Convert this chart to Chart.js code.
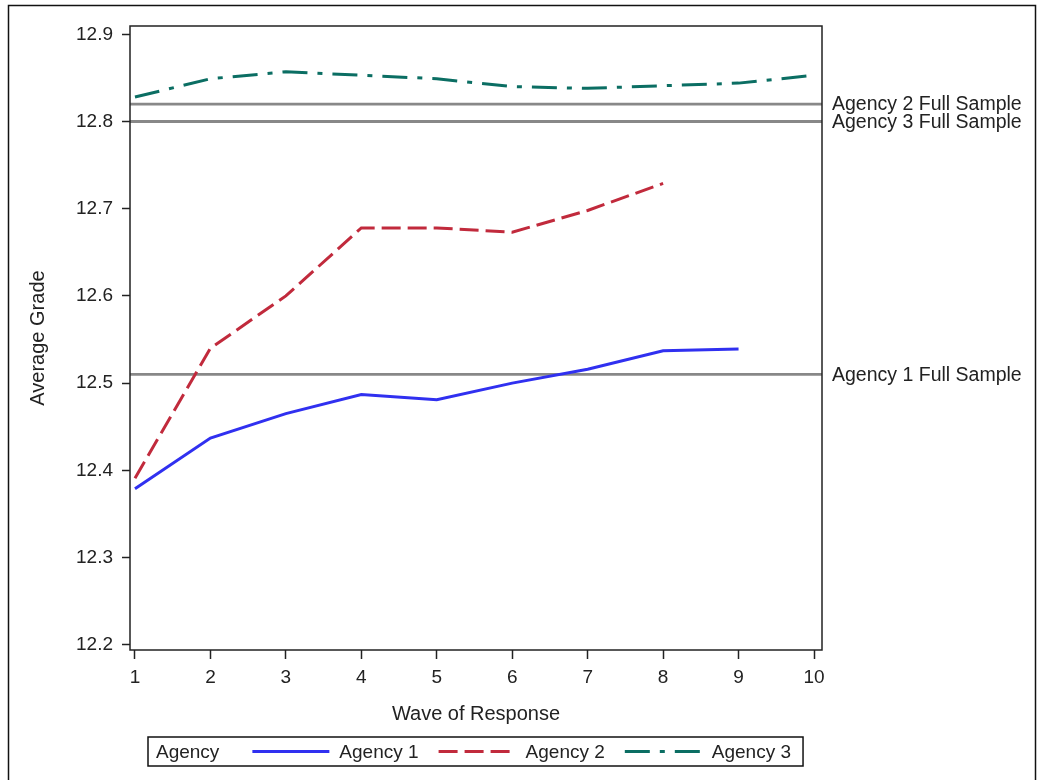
<!DOCTYPE html>
<html>
<head>
<meta charset="utf-8">
<title>Average Grade by Wave of Response</title>
<script src="https://cdn.jsdelivr.net/npm/chart.js@4.4.1/dist/chart.umd.min.js"></script>
<style>
  html, body { margin: 0; padding: 0; background: #fff; }
  #grade-chart { display: block; }
</style>
</head>
<body>
<canvas id="grade-chart" width="1041" height="780"></canvas>
<script>
// --- Data ---
const waves = [1, 2, 3, 4, 5, 6, 7, 8, 9, 10];
const agency1 = [12.379, 12.437, 12.465, 12.487, 12.481, 12.500, 12.516, 12.537, 12.539];
const agency2 = [12.391, 12.540, 12.600, 12.678, 12.678, 12.673, 12.698, 12.729];
const agency3 = [12.828, 12.849, 12.857, 12.853, 12.849, 12.840, 12.838, 12.841, 12.844, 12.853];
const agencyNames = ['Agency 1', 'Agency 2', 'Agency 3'];

const fullSampleLabels = ['Agency 1 Full Sample', 'Agency 2 Full Sample', 'Agency 3 Full Sample'];
const fullSampleValues = [12.51, 12.82, 12.80];

const xTicks = [1, 2, 3, 4, 5, 6, 7, 8, 9, 10];
const yTicks = [12.2, 12.3, 12.4, 12.5, 12.6, 12.7, 12.8, 12.9];

const FONT = "'Liberation Sans', Arial, sans-serif";
const TEXT = '#222';

Chart.defaults.font.family = FONT;
Chart.defaults.color = TEXT;

function toPoints(values) {
    return values.map((v, i) => ({ x: waves[i], y: v }));
}

// --- Plugins ---

// page frame + white background
const frame = {
    id: 'frame',
    beforeDraw(chart) {
        const ctx = chart.ctx;
        ctx.save();
        ctx.fillStyle = '#fff';
        ctx.fillRect(0, 0, chart.width, chart.height);
        ctx.strokeStyle = '#111';
        ctx.lineWidth = 1.5;
        ctx.strokeRect(8.5, 5.5, 1027, chart.height + 10);
        ctx.restore();
    },
    afterDraw(chart) {
        const { ctx, chartArea: a } = chart;
        ctx.save();
        ctx.strokeStyle = TEXT;
        ctx.lineWidth = 1.5;
        ctx.strokeRect(a.left, a.top, a.right - a.left, a.bottom - a.top);
        ctx.restore();
    }
};

// horizontal full-sample reference lines with labels outside the plot
const refLines = {
    id: 'refLines',
    beforeDatasetsDraw(chart) {
        const { ctx, chartArea: a, scales } = chart;
        ctx.save();
        fullSampleValues.forEach((v, i) => {
            const y = scales.y.getPixelForValue(v);
            ctx.strokeStyle = '#888';
            ctx.lineWidth = 2.8;
            ctx.beginPath();
            ctx.moveTo(a.left, y);
            ctx.lineTo(a.right, y);
            ctx.stroke();

            ctx.fillStyle = TEXT;
            ctx.font = '19.5px ' + FONT;
            ctx.textAlign = 'left';
            ctx.textBaseline = 'middle';
            ctx.fillText(fullSampleLabels[i], a.right + 10, y + 1);
        });
        ctx.restore();
    }
};

// boxed legend under the axis title: "Agency" then one sample per dataset
const boxLegend = {
    id: 'boxLegend',
    afterDraw(chart) {
        const { ctx, chartArea: a } = chart;
        const sample = 77;
        const top = 737, h = 29;
        const midY = top + h / 2;

        ctx.save();
        ctx.font = '19px ' + FONT;
        const titleW = ctx.measureText('Agency').width;
        let total = 8 + titleW + 33;
        chart.data.datasets.forEach((ds, i) => {
            total += sample + 10 + ctx.measureText(ds.label).width + (i < 2 ? 20 : 12);
        });
        const left = Math.round((a.left + a.right) / 2 - total / 2);

        ctx.fillStyle = '#fff';
        ctx.fillRect(left, top, total, h);
        ctx.strokeStyle = '#111';
        ctx.lineWidth = 1.5;
        ctx.strokeRect(left, top, total, h);

        ctx.fillStyle = TEXT;
        ctx.textBaseline = 'middle';
        ctx.textAlign = 'left';
        let x = left + 8;
        ctx.fillText('Agency', x, midY + 1);
        x += titleW + 33;

        chart.data.datasets.forEach((ds) => {
            ctx.strokeStyle = ds.borderColor;
            ctx.lineWidth = ds.borderWidth;
            ctx.setLineDash(ds.borderDash || []);
            ctx.beginPath();
            ctx.moveTo(x, midY);
            ctx.lineTo(x + sample, midY);
            ctx.stroke();
            ctx.setLineDash([]);
            x += sample + 10;
            ctx.fillStyle = TEXT;
            ctx.fillText(ds.label, x, midY + 1);
            x += ctx.measureText(ds.label).width + 20;
        });
        ctx.restore();
    }
};

// --- Chart ---

const ctx = document.getElementById('grade-chart').getContext('2d');

new Chart(ctx, {
    type: 'line',
    data: {
        datasets: [
            {
                label: agencyNames[0],
                data: toPoints(agency1),
                borderColor: '#3030f0',
                borderWidth: 3,
                borderDash: []
            },
            {
                label: agencyNames[1],
                data: toPoints(agency2),
                borderColor: '#c12a3c',
                borderWidth: 3,
                borderDash: [19, 7]
            },
            {
                label: agencyNames[2],
                data: toPoints(agency3),
                borderColor: '#0b6e63',
                borderWidth: 3,
                borderDash: [25, 10, 5, 10]
            }
        ]
    },
    options: {
        responsive: false,
        animation: false,
        devicePixelRatio: 1,
        layout: { padding: { left: 0, top: 26, right: 219, bottom: 54 } },
        elements: {
            point: { radius: 0, hoverRadius: 0 },
            line: { tension: 0, borderCapStyle: 'butt', fill: false }
        },
        plugins: {
            legend: { display: false },
            tooltip: { enabled: false }
        },
        scales: {
            x: {
                type: 'linear',
                min: 0.934,
                max: 10.106,
                afterBuildTicks: (scale) => { scale.ticks = xTicks.map(v => ({ value: v })); },
                afterFit: (scale) => { scale.height = 76; },
                border: { display: false },
                grid: { drawOnChartArea: false, tickLength: 9, tickColor: TEXT, tickWidth: 1.5 },
                ticks: { font: { size: 19 }, color: TEXT, padding: 7, maxRotation: 0, autoSkip: false },
                title: {
                    display: true,
                    text: 'Wave of Response',
                    font: { size: 20 },
                    color: TEXT,
                    padding: { top: 4, bottom: 0 }
                }
            },
            y: {
                min: 12.194,
                max: 12.9095,
                afterBuildTicks: (scale) => { scale.ticks = yTicks.map(v => ({ value: v })); },
                afterFit: (scale) => { scale.width = 130; },
                border: { display: false },
                grid: { drawOnChartArea: false, tickLength: 8, tickColor: TEXT, tickWidth: 1.5 },
                ticks: {
                    font: { size: 19 },
                    color: TEXT,
                    padding: 9,
                    callback: (v) => Number(v).toFixed(1)
                },
                title: {
                    display: true,
                    text: 'Average Grade',
                    font: { size: 20 },
                    color: TEXT,
                    padding: { top: 26, bottom: 0 }
                }
            }
        }
    },
    plugins: [frame, refLines, boxLegend]
});
</script>
</body>
</html>
